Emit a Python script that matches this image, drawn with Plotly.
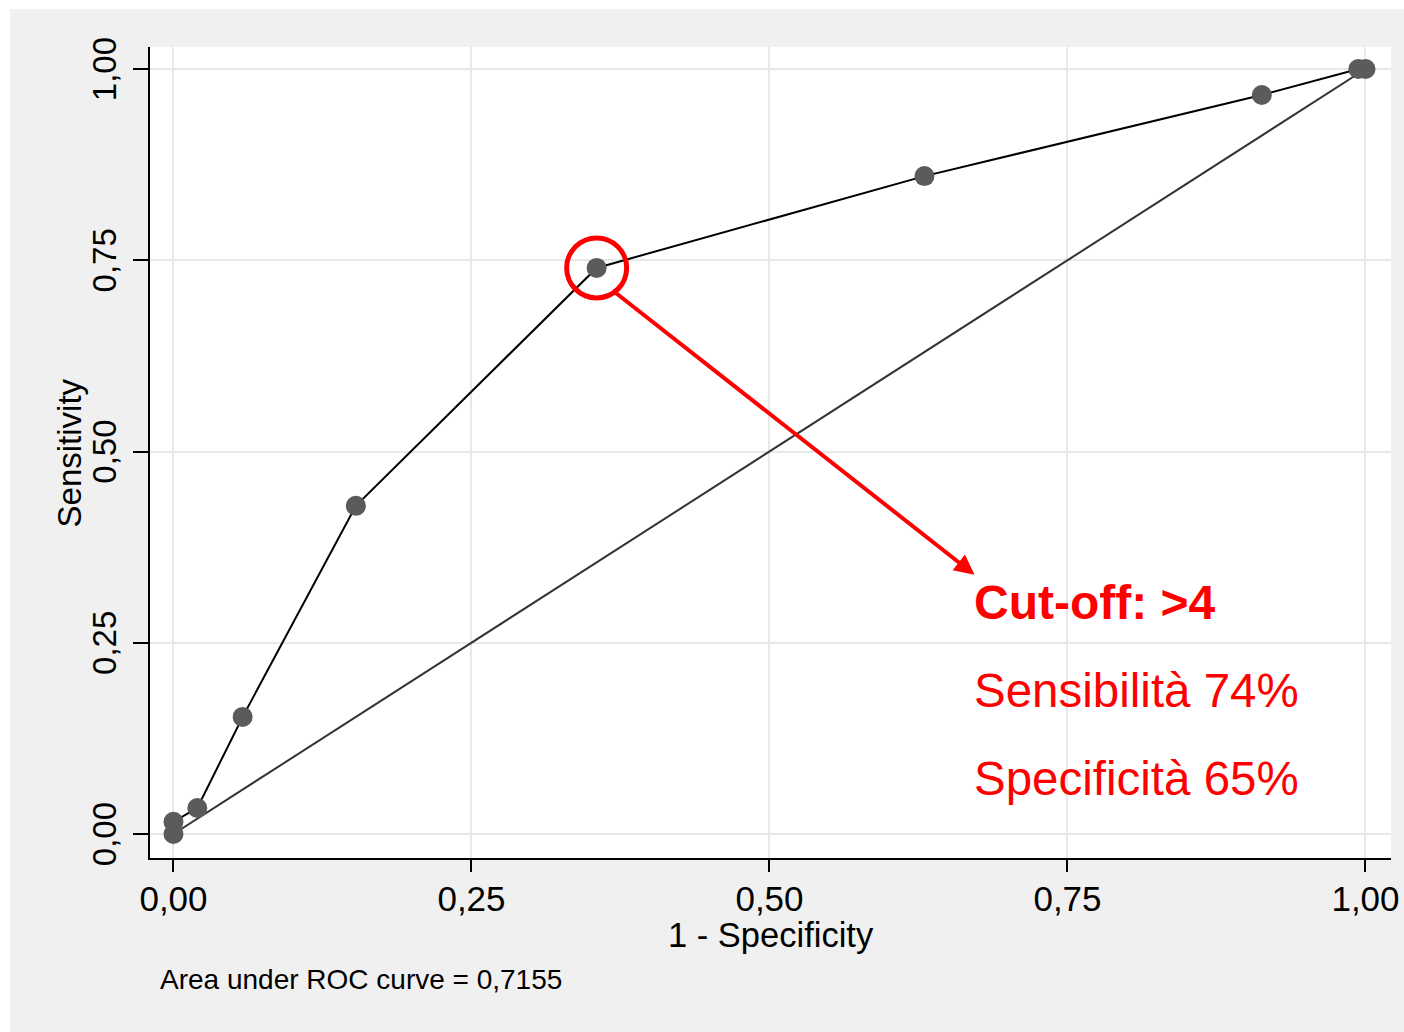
import plotly.graph_objects as go

# ROC points (1 - specificity, sensitivity)
fpr = [0.0, 0.0, 0.020, 0.058, 0.153, 0.355, 0.630, 0.913, 0.994, 1.0]
tpr = [0.0, 0.016, 0.034, 0.153, 0.429, 0.740, 0.860, 0.966, 1.0, 1.0]
ref_x = [0.0, 1.0]
ref_y = [0.0, 1.0]
tick_vals = [0.0, 0.25, 0.5, 0.75, 1.0]
tick_text = ["0,00", "0,25", "0,50", "0,75", "1,00"]
cut_x, cut_y = 0.355, 0.740
auc_text = "Area under ROC curve = 0,7155"
x_title = "1 - Specificity"
y_title = "Sensitivity"
ann_lines = ["<b>Cut-off: >4</b>", "Sensibilità 74%", "Specificità 65%"]
ann_sizes = [48, 47.5, 47.5]
ann_y = [0.302, 0.188, 0.073]

FONT = "Liberation Sans, Arial, Helvetica, sans-serif"
RED = "#ff0000"

fig = go.Figure()
fig.add_trace(go.Scatter(x=ref_x, y=ref_y, mode="lines",
                         line=dict(color="#333333", width=2), hoverinfo="skip"))
fig.add_trace(go.Scatter(x=fpr, y=tpr, mode="lines+markers",
                         line=dict(color="black", width=2),
                         marker=dict(color="#5b5b5b", size=20, line=dict(width=0))))

# circle around cut-off point
fig.add_shape(type="circle", xref="x", yref="y", xsizemode="pixel", ysizemode="pixel",
              xanchor=cut_x, yanchor=cut_y, x0=-30, x1=30, y0=-30, y1=30,
              line=dict(color=RED, width=5), layer="above")

# arrow
fig.add_annotation(x=0.672, y=0.339, ax=0.368, ay=0.711, xref="x", yref="y",
                   axref="x", ayref="y", text="", showarrow=True, arrowhead=2,
                   arrowsize=1, arrowwidth=4, arrowcolor=RED, standoff=0, startstandoff=0)

for t, yy, sz in zip(ann_lines, ann_y, ann_sizes):
    fig.add_annotation(x=0.6695, y=yy, xref="x", yref="y", text=t, showarrow=False,
                       xanchor="left", yanchor="middle",
                       font=dict(family=FONT, size=sz, color=RED))

fig.add_annotation(x=0.0065, y=-0.1504, xref="paper", yref="paper", text=auc_text,
                   showarrow=False, xanchor="left", yanchor="middle",
                   font=dict(family=FONT, size=28, color="black"))

# axis titles
fig.add_annotation(x=0.5, y=-0.0955, xref="paper", yref="paper", text=x_title,
                   showarrow=False, xanchor="center", yanchor="middle",
                   font=dict(family=FONT, size=34.5, color="black"))
fig.add_annotation(x=-0.0645, y=0.5, xref="paper", yref="paper", text=y_title,
                   showarrow=False, xanchor="center", yanchor="middle", textangle=-90,
                   font=dict(family=FONT, size=33, color="black"))

# white strips at left/top edges of image
fig.add_shape(type="rect", xref="paper", yref="paper", x0=-0.2, x1=-0.1128, y0=-0.4, y1=1.2,
              fillcolor="white", line=dict(width=0), layer="below")
fig.add_shape(type="rect", xref="paper", yref="paper", x0=-0.2, x1=1.1, y0=1.0469, y1=1.2,
              fillcolor="white", line=dict(width=0), layer="below")

fig.update_layout(
    width=1404, height=1032,
    margin=dict(l=150, r=13, t=47, b=174, autoexpand=False),
    paper_bgcolor="#f0f0f0", plot_bgcolor="white",
    showlegend=False,
    font=dict(family=FONT, color="black"),
)
fig.update_xaxes(range=[-0.0197, 1.0214], tickvals=tick_vals, ticktext=tick_text,
                 automargin=False,
                 showgrid=True, gridcolor="#e8e8e8", gridwidth=2, zeroline=False,
                 showline=True, linecolor="black", linewidth=2,
                 ticks="outside", ticklen=12, tickwidth=2, tickcolor="black",
                 tickfont=dict(size=35), ticklabelstandoff=-3)
fig.update_yaxes(range=[-0.0314, 1.0288], tickvals=tick_vals, ticktext=tick_text,
                 automargin=False,
                 showgrid=True, gridcolor="#e8e8e8", gridwidth=2, zeroline=False,
                 showline=True, linecolor="black", linewidth=2,
                 ticks="outside", ticklen=15, tickwidth=2, tickcolor="black",
                 tickangle=-90, tickfont=dict(size=33), ticklabelstandoff=4,
                 ticklabelshift=5)

fig.write_html("out.html")
